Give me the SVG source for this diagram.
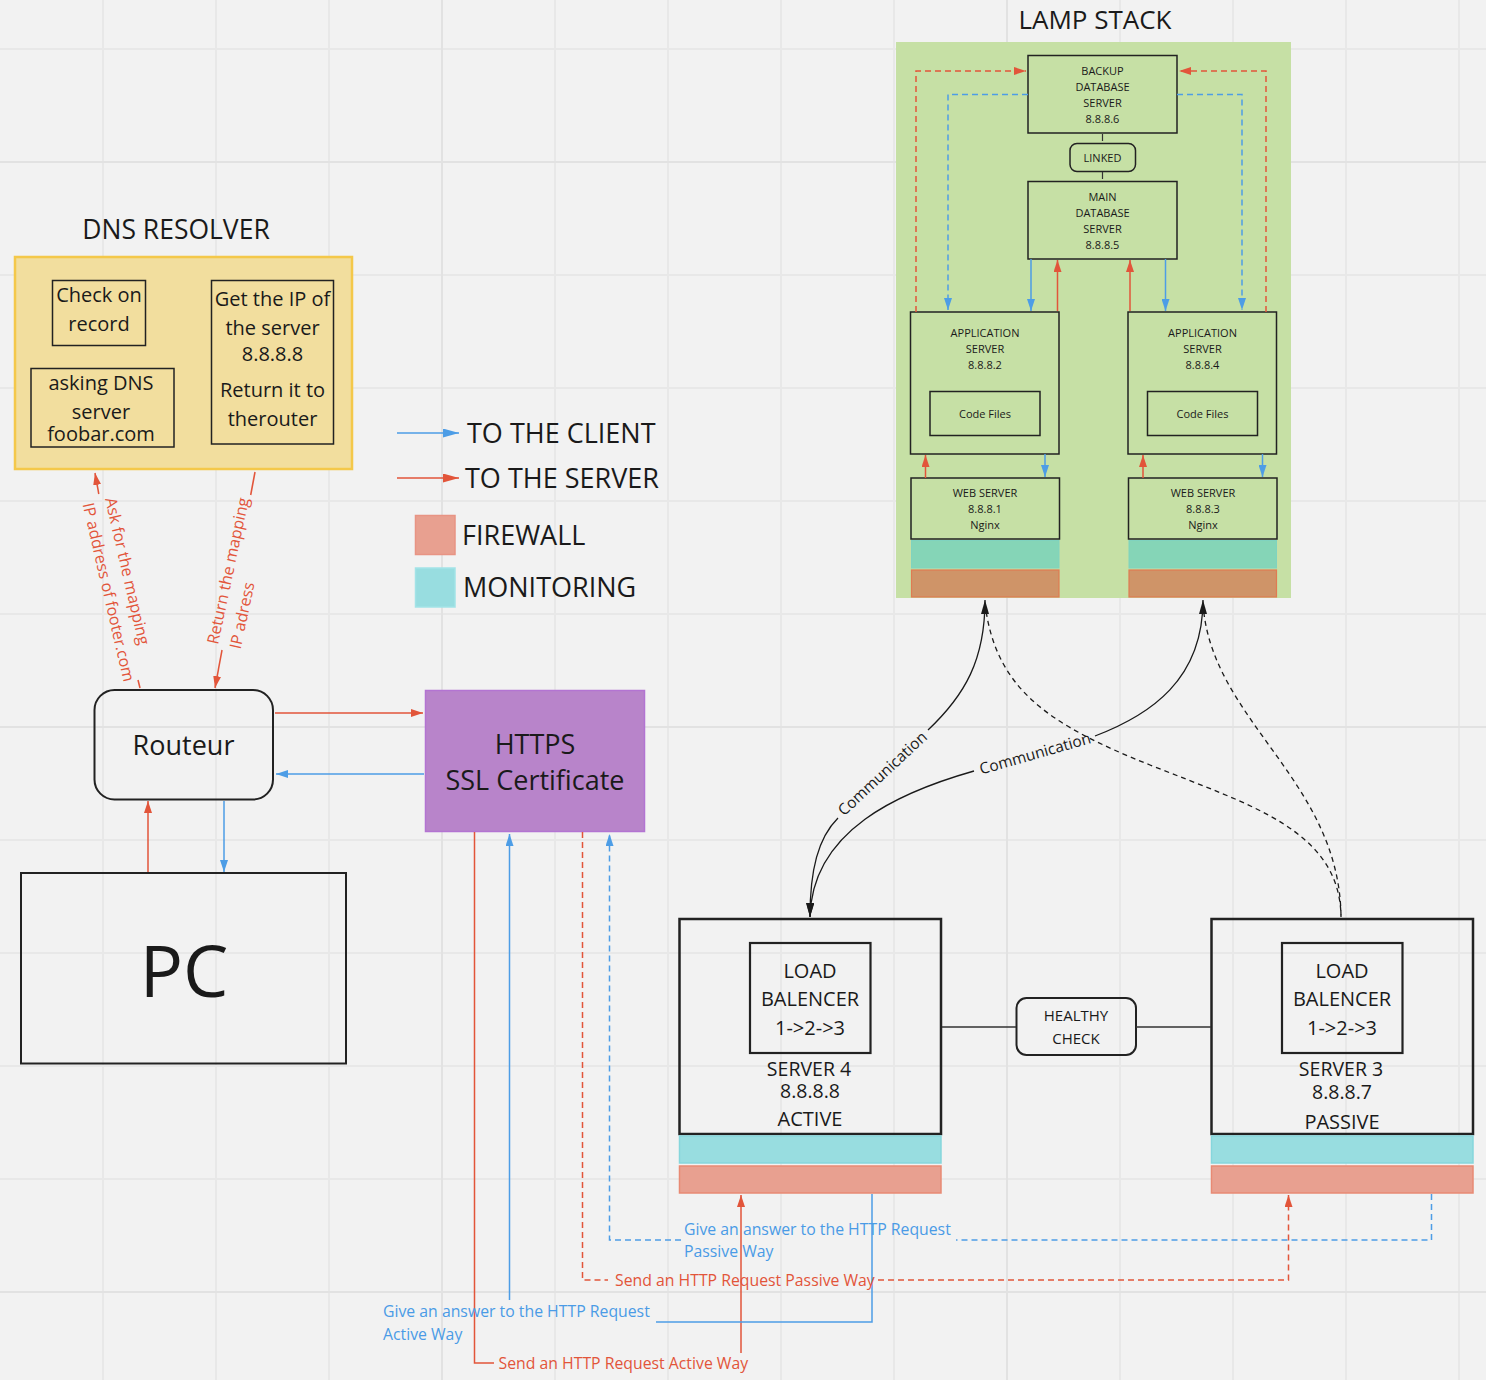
<svg xmlns="http://www.w3.org/2000/svg" width="1486" height="1380" viewBox="0 0 1486 1380">
<style>
.t{font-family:"Open Sans","Liberation Sans",sans-serif;fill:#1a1a1a}
.c{text-anchor:middle}
.s11{font-size:11px}
.box{fill:none;stroke:#222;stroke-width:1.5}
.red{fill:none;stroke:#e2553a;stroke-width:1.5}
.blue{fill:none;stroke:#4d9de6;stroke-width:1.5}
.blk{fill:none;stroke:#1a1a1a;stroke-width:1.3}
.dash{stroke-dasharray:6 4}
.rt{fill:#e2553a}
.bt{fill:#4a9be6}
.lb{font-size:15.8px}
.mon{fill:#98dde0;stroke:#86d6dc;stroke-width:1.5}
.fw{fill:#e8a090;stroke:#e88a74;stroke-width:1.5}
.gmon{fill:#85d5b7;stroke:#7fd3c0;stroke-width:1}
.gfw{fill:#cf9468;stroke:#e07b52;stroke-width:1.2}
</style>
<defs>
<pattern id="gmin" x="102" y="48" width="113" height="113" patternUnits="userSpaceOnUse"><path d="M1,0 V113 M0,1 H113" stroke="#e8e8e8" stroke-width="2"/></pattern>
<pattern id="gmaj" x="441" y="161" width="565" height="565" patternUnits="userSpaceOnUse"><path d="M1,0 V565 M0,1 H565" stroke="#e2e2e2" stroke-width="2"/></pattern>
<marker id="ar" viewBox="0 0 12 8" refX="12" refY="4" markerWidth="12" markerHeight="8" markerUnits="userSpaceOnUse" orient="auto-start-reverse"><path d="M0,0 L12,4 L0,8 z" fill="#e2553a"/></marker>
<marker id="ab" viewBox="0 0 12 8" refX="12" refY="4" markerWidth="12" markerHeight="8" markerUnits="userSpaceOnUse" orient="auto-start-reverse"><path d="M0,0 L12,4 L0,8 z" fill="#4d9de6"/></marker>
<marker id="arL" viewBox="0 0 16 9" refX="16" refY="4.5" markerWidth="16" markerHeight="9" markerUnits="userSpaceOnUse" orient="auto"><path d="M0,0 L16,4.5 L0,9 z" fill="#e2553a"/></marker>
<marker id="abL" viewBox="0 0 16 9" refX="16" refY="4.5" markerWidth="16" markerHeight="9" markerUnits="userSpaceOnUse" orient="auto"><path d="M0,0 L16,4.5 L0,9 z" fill="#4d9de6"/></marker>
<marker id="ak" viewBox="0 0 14 8" refX="14" refY="4" markerWidth="14" markerHeight="8" markerUnits="userSpaceOnUse" orient="auto-start-reverse"><path d="M0,0 L14,4 L0,8 z" fill="#1a1a1a"/></marker>
</defs>
<rect width="1486" height="1380" fill="#f2f2f2"/>
<rect width="1486" height="1380" fill="url(#gmin)"/>
<rect width="1486" height="1380" fill="url(#gmaj)"/>

<!-- LAMP STACK -->
<g id="lamp-stack">
<text class="t c" x="1095" y="29" font-size="26">LAMP STACK</text>
<rect x="896" y="42" width="395" height="556" fill="#c6e0a5"/>
</g>
<g id="backup-db">
<rect class="box" x="1028" y="55.5" width="149" height="77.5"/>
<text class="t c s11" x="1102.5" y="75">BACKUP</text>
<text class="t c s11" x="1102.5" y="91">DATABASE</text>
<text class="t c s11" x="1102.5" y="107">SERVER</text>
<text class="t c s11" x="1102.5" y="123">8.8.8.6</text>
</g>
<g id="linked">
<rect class="box" x="1070" y="143.5" width="65.5" height="28" rx="7"/>
<text class="t c s11" x="1102.5" y="162">LINKED</text>
</g>
<g id="main-db">
<rect class="box" x="1028" y="181.5" width="149" height="77.5"/>
<text class="t c s11" x="1102.5" y="201">MAIN</text>
<text class="t c s11" x="1102.5" y="217">DATABASE</text>
<text class="t c s11" x="1102.5" y="233">SERVER</text>
<text class="t c s11" x="1102.5" y="249">8.8.8.5</text>
</g>
<g id="app-server-1">
<rect class="box" x="910.5" y="312" width="148.5" height="142"/>
<text class="t c s11" x="985" y="337">APPLICATION</text>
<text class="t c s11" x="985" y="353">SERVER</text>
<text class="t c s11" x="985" y="369">8.8.8.2</text>
<rect class="box" x="930" y="391.5" width="110" height="44"/>
<text class="t c s11" x="985" y="418">Code Files</text>
</g>
<g id="app-server-2">
<rect class="box" x="1128" y="312" width="148.5" height="142"/>
<text class="t c s11" x="1202.5" y="337">APPLICATION</text>
<text class="t c s11" x="1202.5" y="353">SERVER</text>
<text class="t c s11" x="1202.5" y="369">8.8.8.4</text>
<rect class="box" x="1147.5" y="391.5" width="110" height="44"/>
<text class="t c s11" x="1202.5" y="418">Code Files</text>
</g>
<g id="web-server-1">
<rect class="box" x="911" y="478" width="148.5" height="61"/>
<text class="t c s11" x="985" y="497">WEB SERVER</text>
<text class="t c s11" x="985" y="513">8.8.8.1</text>
<text class="t c s11" x="985" y="529">Nginx</text>
<rect class="gmon" x="911.5" y="540.5" width="147.5" height="27.5"/>
<rect class="gfw" x="911.5" y="570" width="147.5" height="27"/>
</g>
<g id="web-server-2">
<rect class="box" x="1128.5" y="478" width="148.5" height="61"/>
<text class="t c s11" x="1203" y="497">WEB SERVER</text>
<text class="t c s11" x="1203" y="513">8.8.8.3</text>
<text class="t c s11" x="1203" y="529">Nginx</text>
<rect class="gmon" x="1129" y="540.5" width="147.5" height="27.5"/>
<rect class="gfw" x="1129" y="570" width="147.5" height="27"/>
</g>

<!-- DNS -->
<g id="dns-resolver">
<text class="t c" x="176" y="239" font-size="26.5">DNS RESOLVER</text>
<rect x="15" y="257" width="337" height="212" fill="#f2de9e" stroke="#f4c84a" stroke-width="2.5"/>
</g>
<g id="check-record">
<rect class="box" x="52.5" y="280.5" width="93" height="65"/>
<text class="t c" x="99" y="302" font-size="20">Check on</text>
<text class="t c" x="99" y="331" font-size="20">record</text>
</g>
<g id="asking-dns">
<rect class="box" x="31" y="368.5" width="143" height="78.5"/>
<text class="t c" x="101" y="390" font-size="20">asking DNS</text>
<text class="t c" x="101" y="419" font-size="20">server</text>
<text class="t c" x="101" y="441" font-size="20">foobar.com</text>
</g>
<g id="get-ip">
<rect class="box" x="211.5" y="280.5" width="122" height="163.5"/>
<text class="t c" x="272.5" y="306" font-size="20">Get the IP of</text>
<text class="t c" x="272.5" y="335" font-size="20">the server</text>
<text class="t c" x="272.5" y="361" font-size="20">8.8.8.8</text>
<text class="t c" x="272.5" y="397" font-size="20">Return it to</text>
<text class="t c" x="272.5" y="426" font-size="20">therouter</text>
</g>

<!-- Legend -->
<g id="legend">
<path class="blue" d="M397,433 H459" marker-end="url(#abL)"/>
<text class="t" x="467" y="443" font-size="27">TO THE CLIENT</text>
<path class="red" d="M397,478 H459" marker-end="url(#arL)"/>
<text class="t" x="465" y="488" font-size="27">TO THE SERVER</text>
<rect x="415.5" y="515.5" width="39.5" height="39" fill="#e8a090" stroke="#e89484" stroke-width="1.5"/>
<text class="t" x="462" y="545" font-size="27">FIREWALL</text>
<rect x="415.5" y="568" width="39.5" height="39" fill="#98dde0" stroke="#a2e3e7" stroke-width="1.5"/>
<text class="t" x="463" y="597" font-size="27">MONITORING</text>
</g>

<!-- Routeur, HTTPS, PC -->
<g id="routeur">
<rect x="94.5" y="690" width="178.5" height="109.5" rx="20" fill="none" stroke="#222" stroke-width="2"/>
<text class="t c" x="183.5" y="755" font-size="27">Routeur</text>
</g>
<g id="https">
<rect x="425.5" y="690.5" width="219" height="141" fill="#b884ca" stroke="#b374d2" stroke-width="1.5"/>
<text class="t c" x="535" y="754" font-size="27">HTTPS</text>
<text class="t c" x="535" y="790" font-size="27">SSL Certificate</text>
</g>
<g id="pc">
<rect x="21" y="873" width="325" height="190.5" fill="none" stroke="#222" stroke-width="2"/>
<text class="t c" x="184" y="997" font-size="72">PC</text>
</g>

<!-- Load balancers -->
<g id="server-4">
<rect x="679.5" y="919" width="261.5" height="215" fill="none" stroke="#222" stroke-width="2.5"/>
<rect x="750" y="943" width="120.5" height="110" fill="none" stroke="#222" stroke-width="2.2"/>
<text class="t c" x="810" y="978" font-size="20">LOAD</text>
<text class="t c" x="810" y="1006" font-size="20">BALENCER</text>
<text class="t c" x="810" y="1035" font-size="20">1-&gt;2-&gt;3</text>
<text class="t c" x="809" y="1076" font-size="19.5">SERVER 4</text>
<text class="t c" x="810" y="1098" font-size="19.5">8.8.8.8</text>
<text class="t c" x="810" y="1126" font-size="20">ACTIVE</text>
<rect class="mon" x="679.5" y="1136" width="261.5" height="27"/>
<rect class="fw" x="679.5" y="1166" width="261.5" height="27"/>
</g>
<g id="server-3">
<rect x="1211.5" y="919" width="261.5" height="215" fill="none" stroke="#222" stroke-width="2.5"/>
<rect x="1282" y="943" width="120.5" height="110" fill="none" stroke="#222" stroke-width="2.2"/>
<text class="t c" x="1342" y="978" font-size="20">LOAD</text>
<text class="t c" x="1342" y="1006" font-size="20">BALENCER</text>
<text class="t c" x="1342" y="1035" font-size="20">1-&gt;2-&gt;3</text>
<text class="t c" x="1341" y="1076" font-size="19.5">SERVER 3</text>
<text class="t c" x="1342" y="1099" font-size="19.5">8.8.8.7</text>
<text class="t c" x="1342" y="1129" font-size="20">PASSIVE</text>
<rect class="mon" x="1211.5" y="1136" width="261.5" height="27"/>
<rect class="fw" x="1211.5" y="1166" width="261.5" height="27"/>
</g>
<g id="healthy-check">
<rect x="1016.5" y="998" width="119.5" height="57" rx="10" fill="none" stroke="#222" stroke-width="2"/>
<text class="t c" x="1076" y="1021" font-size="15">HEALTHY</text>
<text class="t c" x="1076" y="1044" font-size="15">CHECK</text>
</g>

<!-- Connectors -->
<g id="connectors">
<path d="M1102.5,134 V141 M1102.5,172 V179" stroke="#333" stroke-width="1.2" fill="none"/>
<path class="red dash" d="M916,312 V71 H1026" marker-end="url(#ar)"/>
<path class="red dash" d="M1266,312 V71 H1179" marker-end="url(#ar)"/>
<path class="blue dash" d="M1028,94.5 H948 V310" marker-end="url(#ab)"/>
<path class="blue dash" d="M1177,94.5 H1242 V310" marker-end="url(#ab)"/>
<path class="blue" d="M1031,259 V311" marker-end="url(#ab)"/>
<path class="red" d="M1057.5,311 V260" marker-end="url(#ar)"/>
<path class="red" d="M1130,311 V260" marker-end="url(#ar)"/>
<path class="blue" d="M1165.5,259 V311" marker-end="url(#ab)"/>
<path class="red" d="M925.5,478 V455" marker-end="url(#ar)"/>
<path class="blue" d="M1045,454 V477" marker-end="url(#ab)"/>
<path class="red" d="M1143,478 V455" marker-end="url(#ar)"/>
<path class="blue" d="M1262.5,454 V477" marker-end="url(#ab)"/>

<path class="red" d="M140,688 L138,680"/>
<path class="red" d="M98.8,494 L95,473" marker-end="url(#ar)"/>
<text class="t rt" font-size="16" transform="translate(105,499) rotate(77)">Ask for the mapping</text>
<text class="t rt" font-size="16" transform="translate(82.6,504.2) rotate(77)">IP address of footer.com</text>
<path class="red" d="M255,472 L250.7,495"/>
<path class="red" d="M222,650 L215,688" marker-end="url(#ar)"/>
<text class="t rt" font-size="16" transform="translate(218,645) rotate(-78)">Return the mapping</text>
<text class="t rt" font-size="16" transform="translate(240.5,649.8) rotate(-78)">IP adress</text>

<path class="red" d="M275,713 H423" marker-end="url(#ar)"/>
<path class="blue" d="M424,774 H276" marker-end="url(#ab)"/>
<path class="red" d="M148,872 V801" marker-end="url(#ar)"/>
<path class="blue" d="M224,801 V872" marker-end="url(#ab)"/>

<path class="blk" d="M985,600 C985,660 965,695 928,730" marker-start="url(#ak)"/>
<path class="blk" d="M838,818 C818,838 810,870 810,917" marker-end="url(#ak)"/>
<text class="t c" font-size="15.5" dominant-baseline="central" transform="translate(882,773) rotate(-43)">Communication</text>
<path class="blk" d="M1203,600 C1203,680 1150,715 1095,736" marker-start="url(#ak)"/>
<path class="blk" d="M974,771 C900,792 812,830 810,917" marker-end="url(#ak)"/>
<text class="t c" font-size="15.5" dominant-baseline="central" transform="translate(1035,753) rotate(-16)">Communication</text>
<path class="blk" d="M985,603 C995,690 1050,725 1150,765 C1250,805 1340,830 1341,917" stroke-dasharray="5 4"/>
<path class="blk" d="M1203,603 C1210,720 1340,780 1341,917" stroke-dasharray="5 4"/>

<path d="M942,1027 H1016 M1136,1027 H1211" stroke="#333" stroke-width="1.3" fill="none"/>

<path class="red" d="M474.5,832 V1363 H494"/>
<path class="red" d="M741,1353 V1195" marker-end="url(#ar)"/>
<text class="t rt lb" x="498.5" y="1368.5">Send an HTTP Request Active Way</text>
<path class="blue" d="M872,1194 V1322 H656"/>
<path class="blue" d="M509.5,1300 V834" marker-end="url(#ab)"/>
<text class="t bt lb" x="383" y="1317">Give an answer to the HTTP Request</text>
<text class="t bt lb" x="383" y="1340">Active Way</text>
<path class="red dash" d="M582.5,832 V1280 H608"/>
<path class="red dash" d="M878,1280 H1288.5 V1195" marker-end="url(#ar)"/>
<text class="t rt lb" x="615" y="1285.5">Send an HTTP Request Passive Way</text>
<path class="blue dash" d="M1431.5,1194 V1240 H956"/>
<path class="blue dash" d="M681,1240 H609.5 V834" marker-end="url(#ab)"/>
<text class="t bt lb" x="684" y="1234.5">Give an answer to the HTTP Request</text>
<text class="t bt lb" x="684" y="1257">Passive Way</text>
</g>
</svg>
